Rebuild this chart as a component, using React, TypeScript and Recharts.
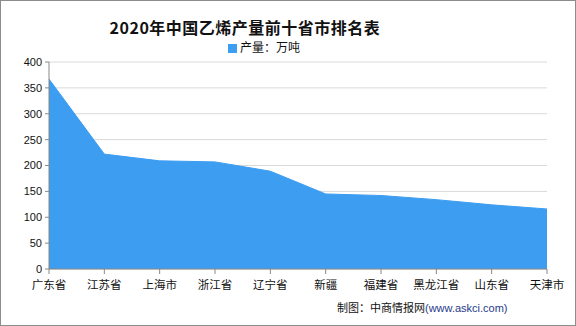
import React from "react";
import { AreaChart, Area, XAxis, YAxis, CartesianGrid } from "recharts";

const provinces = ["广东省", "江苏省", "上海市", "浙江省", "辽宁省", "新疆", "福建省", "黑龙江省", "山东省", "天津市"];
const output = [367, 222, 209, 207, 189, 145, 142, 134, 124, 116];
const yTicks = [0, 50, 100, 150, 200, 250, 300, 350, 400];

const data = provinces.map((p, i) => ({ name: p, value: output[i] }));

const FONT = '"Liberation Sans", "Noto Sans CJK SC", sans-serif';

export default function App() {
  return (
    <div
      style={{
        position: "absolute",
        left: 0,
        top: 0,
        width: 576,
        height: 326,
        boxSizing: "border-box",
        border: "1px solid #8c8c8c",
        background: "#fff",
        fontFamily: FONT,
      }}
    >
      <div
        style={{
          position: "absolute",
          left: 0,
          width: 488,
          top: 16,
          textAlign: "center",
          fontSize: 16,
          fontWeight: "bold",
          color: "#111",
          lineHeight: "20px",
          letterSpacing: 0.5,
          fontFamily: '"Noto Sans CJK SC", sans-serif',
        }}
      >
        2020年中国乙烯产量前十省市排名表
      </div>
      <div
        style={{
          position: "absolute",
          left: 227,
          top: 39,
          display: "flex",
          alignItems: "center",
          fontSize: 12,
          color: "#111",
          lineHeight: "16px",
        }}
      >
        <span style={{ display: "inline-block", width: 9, height: 9, background: "#3d9df0", marginRight: 3 }} />
        产量：万吨
      </div>
      <div style={{ position: "absolute", left: -1, top: -1 }}>
        <AreaChart
          width={576}
          height={326}
          data={data}
          margin={{ top: 62, right: 29, bottom: 27, left: 9 }}
        >
          <CartesianGrid vertical={false} stroke="#d9d9d9" />
          <XAxis
            dataKey="name"
            stroke="#888"
            tick={{ fill: "#111", fontSize: 11.5, fontFamily: FONT }}
            tickSize={5}
            tickMargin={7}
            height={30}
            interval={0}
          />
          <YAxis
            ticks={yTicks}
            domain={[0, 400]}
            stroke="#888"
            tick={{ fill: "#111", fontSize: 11, fontFamily: FONT }}
            tickSize={4}
            tickMargin={3}
            width={40}
            interval={0}
          />
          <Area
            type="linear"
            dataKey="value"
            stroke="#3d9df0"
            strokeWidth={1}
            fill="#3d9df0"
            fillOpacity={1}
            isAnimationActive={false}
          />
        </AreaChart>
      </div>
      <div
        style={{
          position: "absolute",
          left: 336,
          top: 300,
          fontSize: 11,
          color: "#111",
          lineHeight: "14px",
          whiteSpace: "nowrap",
        }}
      >
        制图：中商情报网<span style={{ color: "#1f3a8a" }}>(www.askci.com)</span>
      </div>
    </div>
  );
}
